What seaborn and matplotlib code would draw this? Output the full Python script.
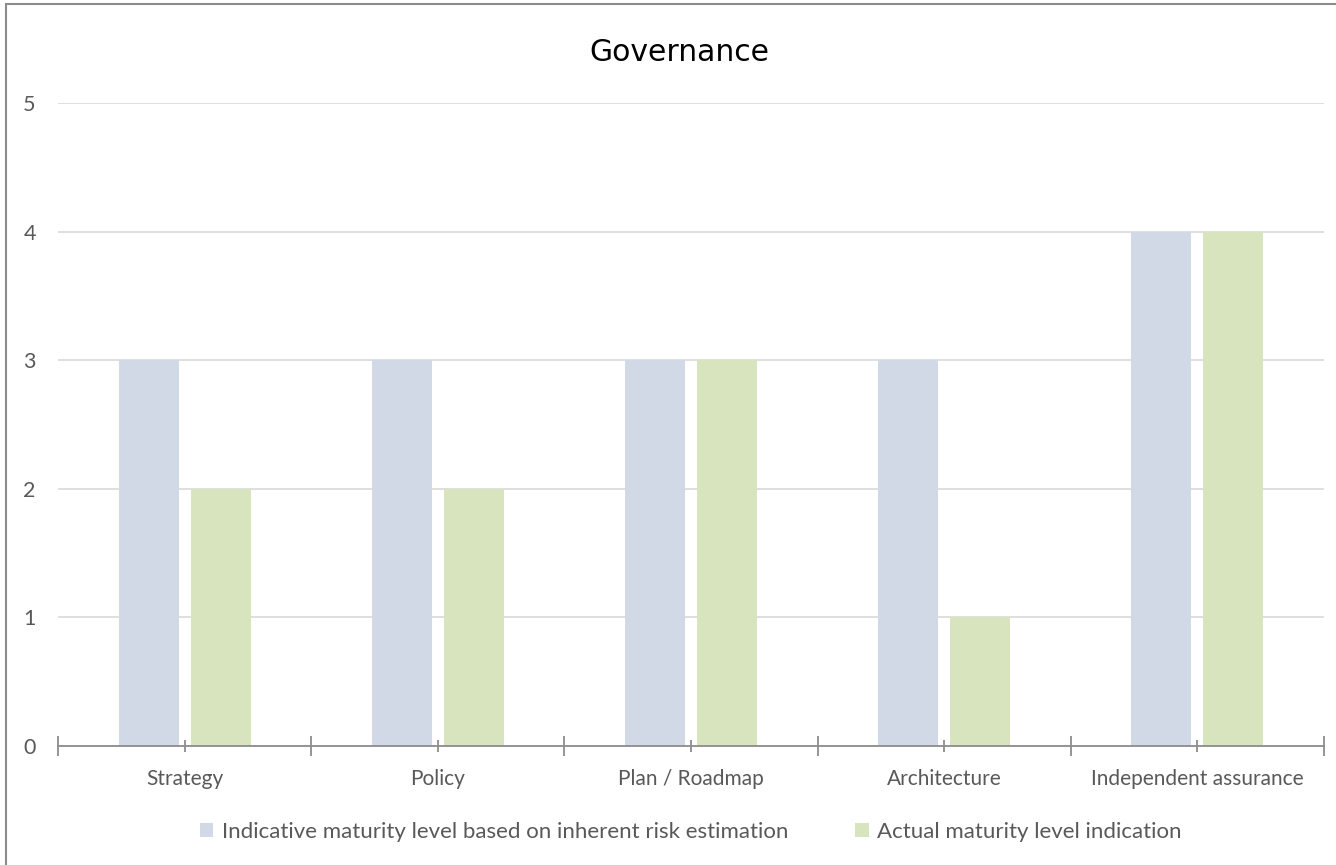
import pandas as pd
import numpy as np
import seaborn as sns
import matplotlib.pyplot as plt
from matplotlib.patches import Rectangle
from matplotlib.ticker import MultipleLocator

# --- DONNEES ---
categories = ["Strategy", "Policy", "Plan / Roadmap", "Architecture", "Independent assurance"]
indicative = [3, 3, 3, 3, 4]
actual = [2, 2, 3, 1, 4]
series_names = ["Indicative maturity level based on inherent risk estimation",
                "Actual maturity level indication"]
y_ticks = [0, 1, 2, 3, 4, 5]

df = pd.DataFrame({
    "Category": categories * 2,
    "Level": indicative + actual,
    "Series": [series_names[0]] * len(categories) + [series_names[1]] * len(categories),
})

sns.set_theme(style="white")
plt.rcParams['font.family'] = ['Lato', 'DejaVu Sans']

fig = plt.figure(figsize=(13.36, 8.65), dpi=100)
ax = fig.add_axes([58 / 1336, 119 / 865, 1266 / 1336, 643 / 865])

sns.barplot(data=df, x="Category", y="Level", hue="Series",
            palette=["#D0D9E5", "#D7E4BD"], width=0.569, gap=0.167,
            order=categories, hue_order=series_names, ax=ax, zorder=2,
            linewidth=0, saturation=1)

ax.set_xlim(-0.5, len(categories) - 0.5)
ax.set_ylim(0, 5)
ax.set_yticks(y_ticks)
ax.yaxis.grid(True, color="#D9D9D9", linewidth=1.2, zorder=0)
ax.set_axisbelow(True)
ax.set_xlabel("")
ax.set_ylabel("")

for s in ["top", "right", "left"]:
    ax.spines[s].set_visible(False)
ax.spines["bottom"].set_color("#8C8C8C")
ax.spines["bottom"].set_linewidth(1.3)

ax.xaxis.set_minor_locator(MultipleLocator(1.0, offset=0.5))
ax.tick_params(axis="x", which="both", bottom=True, direction="inout", color="#8C8C8C",
               width=1.3, labelsize=15, labelcolor="#595959", pad=12)
ax.tick_params(axis="x", which="major", length=9)
ax.tick_params(axis="x", which="minor", length=15)
ax.tick_params(axis="y", length=0, labelsize=15.5, labelcolor="#595959", pad=16)

ax.set_title("Governance", fontsize=21.5, color="black", family="DejaVu Sans",
             pad=30, x=0.491)

ax.legend(loc="upper center", bbox_to_anchor=(0.5, -0.087), ncol=2, frameon=False,
          fontsize=16, handlelength=0.6, handleheight=0.6, handletextpad=0.4,
          columnspacing=3.0, labelcolor="#595959")

fig.patches.append(Rectangle((6 / 1336, -0.1), 1.2, 1.1 - 4 / 865,
                             transform=fig.transFigure, fill=False,
                             edgecolor="#8C8C8C", linewidth=1.5, zorder=0))

fig.savefig("out.png", dpi=100)
